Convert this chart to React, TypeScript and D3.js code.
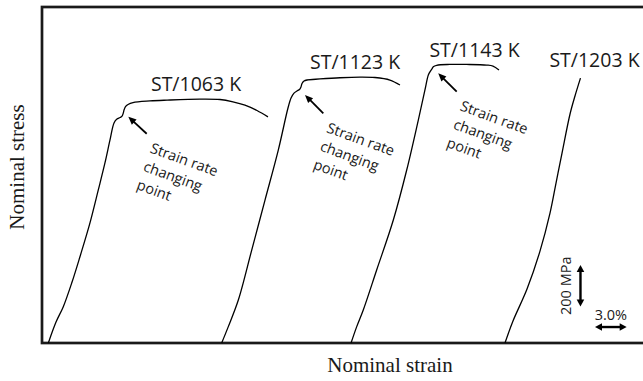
import React from "react";
import * as d3 from "d3";

// ---- data (strain in %, stress in MPa) ----
const curve1Strain = [0.60, 1.33, 2.02, 2.85, 3.60, 4.55, 5.34, 5.97, 6.45, 6.83, 7.11, 7.40, 7.59, 7.71, 7.78, 7.92, 8.16, 8.63, 10.24, 11.86, 14.98, 16.88, 18.11, 19.25, 20.39, 21.43];
const curve1Stress = [0, 101, 175, 294, 416, 579, 738, 868, 979, 1061, 1080, 1087, 1094, 1109, 1123, 1140, 1150, 1159, 1167, 1171, 1176, 1174, 1163, 1147, 1121, 1090];

const curve2Strain = [17.04, 17.67, 18.62, 19.89, 21.15, 22.41, 23.33, 23.62, 23.90, 24.18, 24.42, 24.56, 24.66, 24.85, 25.13, 26.37, 28.26, 30.16, 31.58, 33.00, 33.95];
const curve2Stress = [0, 79, 207, 448, 689, 930, 1133, 1181, 1205, 1215, 1222, 1234, 1251, 1263, 1268, 1273, 1279, 1282, 1280, 1268, 1244];

const curve3Strain = [29.31, 29.85, 30.47, 31.74, 33.32, 34.59, 35.69, 36.32, 36.64, 36.84, 36.98, 37.11, 37.43, 38.69, 40.27, 42.17, 42.77, 43.34];
const curve3Stress = [0, 79, 159, 352, 593, 834, 1075, 1220, 1292, 1311, 1321, 1332, 1339, 1343, 1343, 1340, 1335, 1316];

const curve4Strain = [43.91, 44.67, 46.0, 47.23, 48.18, 48.75, 49.32, 50.08, 50.55, 51.07];
const curve4Stress = [0, 106, 260, 443, 626, 771, 916, 1104, 1191, 1277];

const curveLabels = ["ST/1063 K", "ST/1123 K", "ST/1143 K", "ST/1203 K"];
const labelStrain = [14.61, 29.69, 41.02, 52.40];
const labelStress = [1217, 1323, 1379, 1333];

// strain-rate changing point arrows: tail -> head
const arrowTailStrain = [9.93, 26.68, 39.33];
const arrowTailStress = [1009, 1107, 1212];
const arrowHeadStrain = [8.19, 24.94, 37.58];
const arrowHeadStress = [1091, 1196, 1300];
const annotationLines = ["Strain rate", "changing", "point"];

// scale bars
const scaleStressLabel = "200 MPa";
const scaleStrainLabel = "3.0%";
const scaleStressSpan = 200;
const scaleStrainSpan = 3.0;

const W = 643;
const H = 381;

const x = d3.scaleLinear().domain([0, 57]).range([42, 643]);
const y = d3.scaleLinear().domain([0, 1620]).range([343, 7]);

const line = d3
  .line<[number, number]>()
  .x((d) => x(d[0]))
  .y((d) => y(d[1]))
  .curve(d3.curveCatmullRom.alpha(0.5));

const curves = [
  d3.zip(curve1Strain, curve1Stress) as [number, number][],
  d3.zip(curve2Strain, curve2Stress) as [number, number][],
  d3.zip(curve3Strain, curve3Stress) as [number, number][],
  d3.zip(curve4Strain, curve4Stress) as [number, number][],
];

function head(x1: number, y1: number, x2: number, y2: number, len: number, half: number) {
  const dx = x2 - x1;
  const dy = y2 - y1;
  const L = Math.hypot(dx, dy);
  const ux = dx / L;
  const uy = dy / L;
  const bx = x2 - ux * len;
  const by = y2 - uy * len;
  return `${x2},${y2} ${bx - uy * half},${by + ux * half} ${bx + uy * half},${by - ux * half}`;
}

function Arrow({ x1, y1, x2, y2, sw, len, half, both }: any) {
  const dx = x2 - x1;
  const dy = y2 - y1;
  const L = Math.hypot(dx, dy);
  const ux = dx / L;
  const uy = dy / L;
  const sx = both ? x1 + ux * len * 0.8 : x1;
  const sy = both ? y1 + uy * len * 0.8 : y1;
  const ex = x2 - ux * len * 0.8;
  const ey = y2 - uy * len * 0.8;
  return (
    <g>
      <line x1={sx} y1={sy} x2={ex} y2={ey} stroke="#000" strokeWidth={sw} />
      <polygon points={head(x1, y1, x2, y2, len, half)} fill="#000" />
      {both && <polygon points={head(x2, y2, x1, y1, len, half)} fill="#000" />}
    </g>
  );
}

export default function App() {
  const sansFont = "'Open Sans', 'Noto Sans', sans-serif";
  const serifFont = "'Liberation Serif', 'DejaVu Serif', serif";
  const rot = 20;
  const lh = 19.5;

  // scale bar positions (data units)
  const vBarStrain = 51.07;
  const vBarBottom = 176;
  const hBarStress = 77;
  const hBarStart = 52.45;

  return (
    <svg width={W} height={H} style={{ position: "absolute", left: 0, top: 0, background: "#fff" }}>
      <rect x={0} y={0} width={W} height={H} fill="#fff" />
      {/* frame */}
      <rect x={x(0)} y={y(1620)} width={x(66) - x(0)} height={y(0) - y(1620)} fill="none" stroke="#1a1a1a" strokeWidth={2.7} />

      {/* curves */}
      {curves.map((c, i) => (
        <path key={i} d={line(c) || ""} fill="none" stroke="#000" strokeWidth={1.3} />
      ))}

      {/* curve labels */}
      {curveLabels.map((t, i) => (
        <text key={t} x={x(labelStrain[i])} y={y(labelStress[i])} textAnchor="middle" fontFamily={sansFont} fontSize={19.5} fill="#1a1a1a">
          {t}
        </text>
      ))}

      {/* strain rate changing point annotations */}
      {arrowTailStrain.map((s, i) => {
        const tx = x(s);
        const ty = y(arrowTailStress[i]);
        return (
          <g key={i}>
            <Arrow x1={tx} y1={ty} x2={x(arrowHeadStrain[i])} y2={y(arrowHeadStress[i])} sw={1.8} len={8} half={3.5} />
            <g transform={`translate(${tx + 2.5},${ty + 18.5}) rotate(${rot})`}>
              {annotationLines.map((l, j) => (
                <text key={l} x={0} y={j * lh} fontFamily={sansFont} fontSize={14.5} fill="#1a1a1a">
                  {l}
                </text>
              ))}
            </g>
          </g>
        );
      })}

      {/* scale bars */}
      <Arrow x1={x(vBarStrain)} y1={y(vBarBottom)} x2={x(vBarStrain)} y2={y(vBarBottom + scaleStressSpan)} sw={2.4} len={7} half={3.8} both />
      <text transform={`translate(${x(vBarStrain) - 9.5},${(y(vBarBottom) + y(vBarBottom + scaleStressSpan)) / 2}) rotate(-90)`} textAnchor="middle" fontFamily={sansFont} fontSize={14.5} fill="#1a1a1a">
        {scaleStressLabel}
      </text>
      <Arrow x1={x(hBarStart)} y1={y(hBarStress)} x2={x(hBarStart + scaleStrainSpan)} y2={y(hBarStress)} sw={2.4} len={7} half={3.8} both />
      <text x={(x(hBarStart) + x(hBarStart + scaleStrainSpan)) / 2} y={y(hBarStress) - 7} textAnchor="middle" fontFamily={sansFont} fontSize={14.5} fill="#1a1a1a">
        {scaleStrainLabel}
      </text>

      {/* axis titles */}
      <text x={(x(0) + x(66)) / 2} y={372} textAnchor="middle" fontFamily={serifFont} fontSize={21} fill="#1a1a1a">
        Nominal strain
      </text>
      <text transform={`translate(24,${(y(0) + y(1620)) / 2 - 8}) rotate(-90)`} textAnchor="middle" fontFamily={serifFont} fontSize={21} fill="#1a1a1a">
        Nominal stress
      </text>
    </svg>
  );
}
